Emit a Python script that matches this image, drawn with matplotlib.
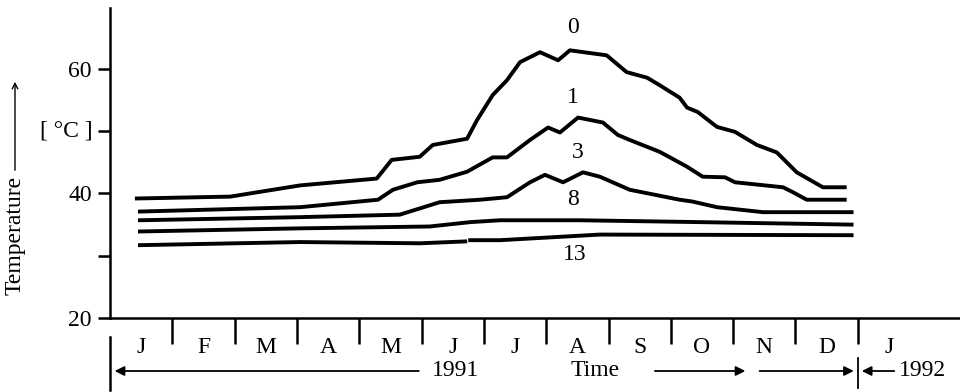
import matplotlib.pyplot as plt
import numpy as np

plt.rcParams['font.family'] = ['Liberation Serif', 'DejaVu Serif']
plt.rcParams['font.size'] = 17

# months since 1 Jan 1991, temperature in deg C (depth labels 0,1,3,8,13)
m0 = [0.43, 1.93, 3.05, 4.28, 4.52, 4.97, 5.18, 5.73, 5.89, 6.14, 6.37, 6.58, 6.90, 7.19,
      7.38, 7.97, 8.29, 8.62, 8.82, 9.14, 9.26, 9.43, 9.74, 10.03, 10.38, 10.70, 10.86,
      11.02, 11.44, 11.79]
t0 = [39.2, 39.5, 41.3, 42.4, 45.4, 45.9, 47.8, 48.8, 51.8, 55.8, 58.2, 61.1, 62.7, 61.4,
      63.0, 62.2, 59.5, 58.6, 57.4, 55.4, 53.8, 53.1, 50.7, 49.9, 47.8, 46.6, 45.0,
      43.4, 41.0, 41.0]

m1 = [0.48, 3.05, 4.30, 4.54, 4.93, 5.29, 5.73, 6.14, 6.37, 6.74, 7.03, 7.22, 7.51, 7.91,
      8.15, 8.34, 8.82, 9.26, 9.51, 9.87, 10.03, 10.80, 10.96, 11.18, 11.79]
t1 = [37.1, 37.8, 39.0, 40.6, 41.8, 42.2, 43.5, 45.8, 45.8, 48.6, 50.6, 49.8, 52.2, 51.4,
      49.4, 48.6, 46.7, 44.3, 42.7, 42.6, 41.8, 41.0, 40.2, 39.0, 39.0]

m3 = [0.48, 3.05, 4.65, 5.29, 5.94, 6.37, 6.74, 6.98, 7.27, 7.59, 7.86, 8.34, 9.14, 9.35,
      9.74, 10.48, 11.90]
t3 = [35.7, 36.2, 36.6, 38.6, 39.0, 39.4, 41.8, 43.0, 41.8, 43.4, 42.7, 40.6, 39.0, 38.7,
      37.8, 37.0, 37.0]

m8 = [0.48, 3.05, 5.13, 5.78, 6.26, 7.54, 9.47, 11.90]
t8 = [33.9, 34.4, 34.7, 35.4, 35.7, 35.7, 35.4, 35.0]

m13 = [0.48, 3.05, 4.97, 5.70, 5.74, 5.78, 6.26, 7.86, 11.90]
t13 = [31.7, 32.2, 32.0, 32.3, np.nan, 32.5, 32.5, 33.4, 33.3]

months = ['J', 'F', 'M', 'A', 'M', 'J', 'J', 'A', 'S', 'O', 'N', 'D', 'J']
depths = ['0', '1', '3', '8', '13']
label_pos = [(7.43, 66.6), (7.43, 55.4), (7.51, 46.6), (7.43, 39.0), (7.46, 30.2)]

fig = plt.figure(figsize=(9.6, 3.92), dpi=100)
ax = fig.add_axes([0.1146, 0.1888, 0.8854, 0.7908])

for m, t in [(m0, t0), (m1, t1), (m3, t3), (m8, t8), (m13, t13)]:
    ax.plot(m, t, color='black', lw=2.8, solid_joinstyle='round')

for d, (x, y) in zip(depths, label_pos):
    ax.text(x, y, d, ha='center', va='center')

ax.set_xlim(0, 13.64)
ax.set_ylim(20, 69.8)
ax.spines['top'].set_visible(False)
ax.spines['right'].set_visible(False)
ax.spines['left'].set_linewidth(1.8)
ax.spines['bottom'].set_linewidth(1.8)

ax.set_yticks([20, 30, 40, 50, 60])
ax.set_yticklabels(['20', '', '40', '', '60'])
ax.tick_params(axis='y', length=9, width=1.8, pad=4)
ax.set_xticks(range(1, 13))
ax.set_xticklabels([])
ax.tick_params(axis='x', length=19, width=1.8)

tr = ax.get_xaxis_transform()
for i, mo in enumerate(months):
    ax.text(i + 0.5, -0.094, mo, ha='center', va='center', transform=tr)

# left bar and year separator
ax.plot([0, 0], [-0.061, -0.232], color='black', lw=1.8, transform=tr, clip_on=False)
ax.plot([12, 12], [-0.129, -0.226], color='black', lw=1.3, transform=tr, clip_on=False)

arr = dict(arrowstyle='-|>', color='black', lw=1.3, mutation_scale=14)
ax.annotate('', xy=(0.03, -0.171), xytext=(5.0, -0.171), xycoords=tr, textcoords=tr, arrowprops=arr)
ax.annotate('', xy=(10.24, -0.171), xytext=(8.70, -0.171), xycoords=tr, textcoords=tr, arrowprops=arr)
ax.annotate('', xy=(11.98, -0.171), xytext=(10.38, -0.171), xycoords=tr, textcoords=tr, arrowprops=arr)
ax.annotate('', xy=(12.02, -0.171), xytext=(12.63, -0.171), xycoords=tr, textcoords=tr, arrowprops=arr)
ax.text(5.54, -0.171, '1991', ha='center', va='center', transform=tr)
ax.text(7.78, -0.171, 'Time', ha='center', va='center', transform=tr)
ax.text(13.04, -0.171, '1992', ha='center', va='center', transform=tr)

# y label with arrow
fig.text(15 / 960, 1 - 235 / 392, 'Temperature', rotation=90, ha='center', va='center')
fig.add_artist(plt.matplotlib.patches.FancyArrowPatch(
    (15 / 960, 1 - 173 / 392), (15 / 960, 1 - 79 / 392), transform=fig.transFigure,
    arrowstyle='->', color='black', lw=1.0, mutation_scale=10))
ax.text(-0.70, 50, '[ °C ]', ha='center', va='center')

fig.savefig('out.png', dpi=100)
